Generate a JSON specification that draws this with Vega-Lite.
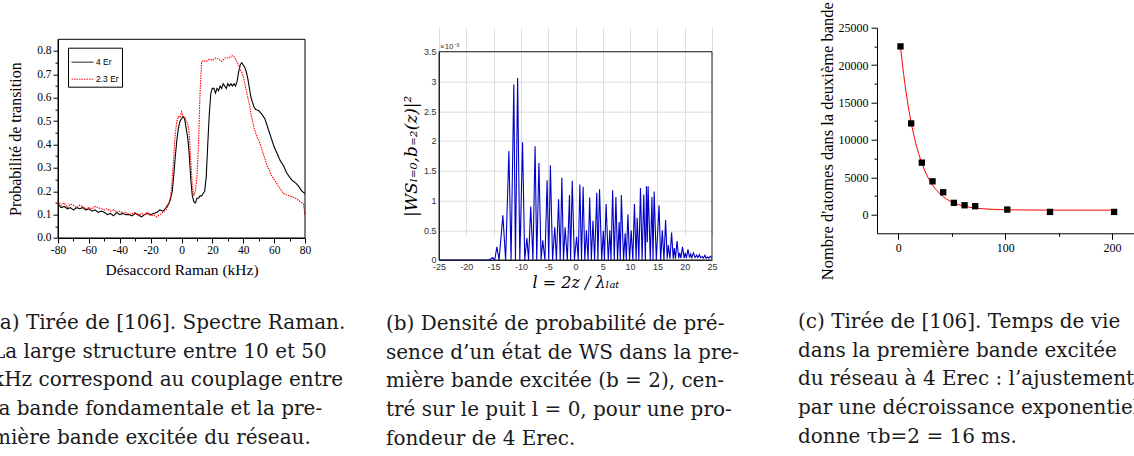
{
  "$schema": "https://vega.github.io/schema/vega-lite/v6.json",
  "background": "white",
  "padding": {"left": -8, "top": 0.7, "right": -20, "bottom": 0},
  "bounds": "flush",
  "spacing": 134,
  "config": {
    "view": {"stroke": null},
    "axis": {"titleFontWeight": "normal", "labelColor": "black", "titleColor": "black", "domainColor": "black", "tickColor": "black", "grid": false, "labelFlush": false, "labelOverlap": false, "tickCount": 100}
  },
  "datasets": {
    "raman": [
      {"x": -80, "p": 0.145, "s": "4 Er"}, {"x": -78, "p": 0.13, "s": "4 Er"}, {"x": -76, "p": 0.135, "s": "4 Er"}, {"x": -74, "p": 0.125, "s": "4 Er"}, {"x": -72, "p": 0.13, "s": "4 Er"}, {"x": -70, "p": 0.12, "s": "4 Er"}, {"x": -68, "p": 0.13, "s": "4 Er"}, {"x": -66, "p": 0.125, "s": "4 Er"}, {"x": -64, "p": 0.13, "s": "4 Er"}, {"x": -62, "p": 0.12, "s": "4 Er"}, {"x": -60, "p": 0.125, "s": "4 Er"}, {"x": -58, "p": 0.115, "s": "4 Er"}, {"x": -56, "p": 0.12, "s": "4 Er"}, {"x": -54, "p": 0.11, "s": "4 Er"}, {"x": -52, "p": 0.115, "s": "4 Er"}, {"x": -50, "p": 0.11, "s": "4 Er"}, {"x": -48, "p": 0.1, "s": "4 Er"}, {"x": -46, "p": 0.105, "s": "4 Er"}, {"x": -44, "p": 0.095, "s": "4 Er"}, {"x": -42, "p": 0.11, "s": "4 Er"}, {"x": -40, "p": 0.1, "s": "4 Er"}, {"x": -38, "p": 0.105, "s": "4 Er"}, {"x": -36, "p": 0.1, "s": "4 Er"}, {"x": -34, "p": 0.1, "s": "4 Er"}, {"x": -32, "p": 0.095, "s": "4 Er"}, {"x": -30, "p": 0.105, "s": "4 Er"}, {"x": -28, "p": 0.1, "s": "4 Er"}, {"x": -26, "p": 0.09, "s": "4 Er"}, {"x": -24, "p": 0.1, "s": "4 Er"}, {"x": -22, "p": 0.105, "s": "4 Er"}, {"x": -20, "p": 0.1, "s": "4 Er"}, {"x": -18, "p": 0.105, "s": "4 Er"}, {"x": -16, "p": 0.11, "s": "4 Er"}, {"x": -14, "p": 0.12, "s": "4 Er"}, {"x": -12, "p": 0.115, "s": "4 Er"}, {"x": -10, "p": 0.13, "s": "4 Er"}, {"x": -8, "p": 0.15, "s": "4 Er"}, {"x": -7, "p": 0.17, "s": "4 Er"}, {"x": -6, "p": 0.2, "s": "4 Er"}, {"x": -5, "p": 0.27, "s": "4 Er"}, {"x": -4, "p": 0.35, "s": "4 Er"}, {"x": -3, "p": 0.42, "s": "4 Er"}, {"x": -2, "p": 0.47, "s": "4 Er"}, {"x": -1, "p": 0.5, "s": "4 Er"}, {"x": 0, "p": 0.51, "s": "4 Er"}, {"x": 1, "p": 0.52, "s": "4 Er"}, {"x": 2, "p": 0.51, "s": "4 Er"}, {"x": 3, "p": 0.47, "s": "4 Er"}, {"x": 4, "p": 0.43, "s": "4 Er"}, {"x": 5, "p": 0.36, "s": "4 Er"}, {"x": 6, "p": 0.25, "s": "4 Er"}, {"x": 7, "p": 0.18, "s": "4 Er"}, {"x": 8, "p": 0.155, "s": "4 Er"}, {"x": 9, "p": 0.15, "s": "4 Er"}, {"x": 10, "p": 0.17, "s": "4 Er"}, {"x": 11, "p": 0.17, "s": "4 Er"}, {"x": 12, "p": 0.18, "s": "4 Er"}, {"x": 13, "p": 0.18, "s": "4 Er"}, {"x": 14, "p": 0.19, "s": "4 Er"}, {"x": 15, "p": 0.2, "s": "4 Er"}, {"x": 16, "p": 0.26, "s": "4 Er"}, {"x": 17, "p": 0.4, "s": "4 Er"}, {"x": 18, "p": 0.53, "s": "4 Er"}, {"x": 19, "p": 0.62, "s": "4 Er"}, {"x": 20, "p": 0.64, "s": "4 Er"}, {"x": 21, "p": 0.64, "s": "4 Er"}, {"x": 22, "p": 0.62, "s": "4 Er"}, {"x": 23, "p": 0.64, "s": "4 Er"}, {"x": 24, "p": 0.63, "s": "4 Er"}, {"x": 25, "p": 0.65, "s": "4 Er"}, {"x": 26, "p": 0.64, "s": "4 Er"}, {"x": 27, "p": 0.66, "s": "4 Er"}, {"x": 28, "p": 0.65, "s": "4 Er"}, {"x": 29, "p": 0.64, "s": "4 Er"}, {"x": 30, "p": 0.66, "s": "4 Er"}, {"x": 31, "p": 0.65, "s": "4 Er"}, {"x": 32, "p": 0.66, "s": "4 Er"}, {"x": 33, "p": 0.65, "s": "4 Er"}, {"x": 34, "p": 0.66, "s": "4 Er"}, {"x": 35, "p": 0.65, "s": "4 Er"}, {"x": 36, "p": 0.67, "s": "4 Er"}, {"x": 37, "p": 0.71, "s": "4 Er"}, {"x": 38, "p": 0.74, "s": "4 Er"}, {"x": 39, "p": 0.75, "s": "4 Er"}, {"x": 40, "p": 0.74, "s": "4 Er"}, {"x": 41, "p": 0.73, "s": "4 Er"}, {"x": 42, "p": 0.71, "s": "4 Er"}, {"x": 43, "p": 0.68, "s": "4 Er"}, {"x": 44, "p": 0.64, "s": "4 Er"}, {"x": 45, "p": 0.6, "s": "4 Er"}, {"x": 46, "p": 0.58, "s": "4 Er"}, {"x": 47, "p": 0.56, "s": "4 Er"}, {"x": 48, "p": 0.55, "s": "4 Er"}, {"x": 50, "p": 0.545, "s": "4 Er"}, {"x": 52, "p": 0.53, "s": "4 Er"}, {"x": 54, "p": 0.51, "s": "4 Er"}, {"x": 55, "p": 0.49, "s": "4 Er"}, {"x": 56, "p": 0.47, "s": "4 Er"}, {"x": 58, "p": 0.43, "s": "4 Er"}, {"x": 60, "p": 0.39, "s": "4 Er"}, {"x": 62, "p": 0.36, "s": "4 Er"}, {"x": 64, "p": 0.33, "s": "4 Er"}, {"x": 66, "p": 0.31, "s": "4 Er"}, {"x": 68, "p": 0.28, "s": "4 Er"}, {"x": 70, "p": 0.26, "s": "4 Er"}, {"x": 72, "p": 0.245, "s": "4 Er"}, {"x": 74, "p": 0.235, "s": "4 Er"}, {"x": 76, "p": 0.22, "s": "4 Er"}, {"x": 78, "p": 0.2, "s": "4 Er"}, {"x": 80, "p": 0.19, "s": "4 Er"},
      {"x": -80, "p": 0.16, "s": "2.3 Er"}, {"x": -78, "p": 0.14, "s": "2.3 Er"}, {"x": -76, "p": 0.15, "s": "2.3 Er"}, {"x": -74, "p": 0.13, "s": "2.3 Er"}, {"x": -72, "p": 0.145, "s": "2.3 Er"}, {"x": -70, "p": 0.14, "s": "2.3 Er"}, {"x": -68, "p": 0.13, "s": "2.3 Er"}, {"x": -66, "p": 0.14, "s": "2.3 Er"}, {"x": -64, "p": 0.135, "s": "2.3 Er"}, {"x": -62, "p": 0.125, "s": "2.3 Er"}, {"x": -60, "p": 0.13, "s": "2.3 Er"}, {"x": -58, "p": 0.125, "s": "2.3 Er"}, {"x": -56, "p": 0.135, "s": "2.3 Er"}, {"x": -54, "p": 0.13, "s": "2.3 Er"}, {"x": -52, "p": 0.125, "s": "2.3 Er"}, {"x": -50, "p": 0.12, "s": "2.3 Er"}, {"x": -48, "p": 0.125, "s": "2.3 Er"}, {"x": -46, "p": 0.115, "s": "2.3 Er"}, {"x": -44, "p": 0.12, "s": "2.3 Er"}, {"x": -42, "p": 0.11, "s": "2.3 Er"}, {"x": -40, "p": 0.115, "s": "2.3 Er"}, {"x": -38, "p": 0.105, "s": "2.3 Er"}, {"x": -36, "p": 0.11, "s": "2.3 Er"}, {"x": -34, "p": 0.1, "s": "2.3 Er"}, {"x": -32, "p": 0.105, "s": "2.3 Er"}, {"x": -30, "p": 0.11, "s": "2.3 Er"}, {"x": -28, "p": 0.095, "s": "2.3 Er"}, {"x": -26, "p": 0.105, "s": "2.3 Er"}, {"x": -24, "p": 0.1, "s": "2.3 Er"}, {"x": -22, "p": 0.11, "s": "2.3 Er"}, {"x": -20, "p": 0.095, "s": "2.3 Er"}, {"x": -18, "p": 0.1, "s": "2.3 Er"}, {"x": -16, "p": 0.09, "s": "2.3 Er"}, {"x": -14, "p": 0.1, "s": "2.3 Er"}, {"x": -12, "p": 0.11, "s": "2.3 Er"}, {"x": -10, "p": 0.12, "s": "2.3 Er"}, {"x": -8, "p": 0.15, "s": "2.3 Er"}, {"x": -7, "p": 0.18, "s": "2.3 Er"}, {"x": -6, "p": 0.25, "s": "2.3 Er"}, {"x": -5, "p": 0.35, "s": "2.3 Er"}, {"x": -4, "p": 0.45, "s": "2.3 Er"}, {"x": -3, "p": 0.5, "s": "2.3 Er"}, {"x": -2, "p": 0.52, "s": "2.3 Er"}, {"x": -1, "p": 0.515, "s": "2.3 Er"}, {"x": 0, "p": 0.54, "s": "2.3 Er"}, {"x": 1, "p": 0.52, "s": "2.3 Er"}, {"x": 2, "p": 0.52, "s": "2.3 Er"}, {"x": 3, "p": 0.5, "s": "2.3 Er"}, {"x": 4, "p": 0.49, "s": "2.3 Er"}, {"x": 5, "p": 0.45, "s": "2.3 Er"}, {"x": 6, "p": 0.33, "s": "2.3 Er"}, {"x": 7, "p": 0.22, "s": "2.3 Er"}, {"x": 8, "p": 0.18, "s": "2.3 Er"}, {"x": 9, "p": 0.2, "s": "2.3 Er"}, {"x": 10, "p": 0.26, "s": "2.3 Er"}, {"x": 11, "p": 0.4, "s": "2.3 Er"}, {"x": 12, "p": 0.62, "s": "2.3 Er"}, {"x": 13, "p": 0.75, "s": "2.3 Er"}, {"x": 14, "p": 0.76, "s": "2.3 Er"}, {"x": 16, "p": 0.755, "s": "2.3 Er"}, {"x": 18, "p": 0.765, "s": "2.3 Er"}, {"x": 20, "p": 0.76, "s": "2.3 Er"}, {"x": 22, "p": 0.77, "s": "2.3 Er"}, {"x": 24, "p": 0.765, "s": "2.3 Er"}, {"x": 26, "p": 0.755, "s": "2.3 Er"}, {"x": 28, "p": 0.77, "s": "2.3 Er"}, {"x": 30, "p": 0.77, "s": "2.3 Er"}, {"x": 32, "p": 0.775, "s": "2.3 Er"}, {"x": 33, "p": 0.78, "s": "2.3 Er"}, {"x": 34, "p": 0.775, "s": "2.3 Er"}, {"x": 35, "p": 0.765, "s": "2.3 Er"}, {"x": 36, "p": 0.75, "s": "2.3 Er"}, {"x": 37, "p": 0.74, "s": "2.3 Er"}, {"x": 38, "p": 0.72, "s": "2.3 Er"}, {"x": 39, "p": 0.71, "s": "2.3 Er"}, {"x": 40, "p": 0.69, "s": "2.3 Er"}, {"x": 41, "p": 0.66, "s": "2.3 Er"}, {"x": 42, "p": 0.63, "s": "2.3 Er"}, {"x": 43, "p": 0.6, "s": "2.3 Er"}, {"x": 44, "p": 0.57, "s": "2.3 Er"}, {"x": 45, "p": 0.53, "s": "2.3 Er"}, {"x": 46, "p": 0.5, "s": "2.3 Er"}, {"x": 47, "p": 0.47, "s": "2.3 Er"}, {"x": 48, "p": 0.45, "s": "2.3 Er"}, {"x": 49, "p": 0.43, "s": "2.3 Er"}, {"x": 50, "p": 0.42, "s": "2.3 Er"}, {"x": 51, "p": 0.4, "s": "2.3 Er"}, {"x": 52, "p": 0.38, "s": "2.3 Er"}, {"x": 53, "p": 0.36, "s": "2.3 Er"}, {"x": 54, "p": 0.34, "s": "2.3 Er"}, {"x": 55, "p": 0.32, "s": "2.3 Er"}, {"x": 56, "p": 0.3, "s": "2.3 Er"}, {"x": 57, "p": 0.29, "s": "2.3 Er"}, {"x": 58, "p": 0.27, "s": "2.3 Er"}, {"x": 59, "p": 0.26, "s": "2.3 Er"}, {"x": 60, "p": 0.25, "s": "2.3 Er"}, {"x": 62, "p": 0.23, "s": "2.3 Er"}, {"x": 64, "p": 0.21, "s": "2.3 Er"}, {"x": 65, "p": 0.2, "s": "2.3 Er"}, {"x": 66, "p": 0.19, "s": "2.3 Er"}, {"x": 68, "p": 0.185, "s": "2.3 Er"}, {"x": 70, "p": 0.18, "s": "2.3 Er"}, {"x": 72, "p": 0.175, "s": "2.3 Er"}, {"x": 74, "p": 0.17, "s": "2.3 Er"}, {"x": 75, "p": 0.165, "s": "2.3 Er"}, {"x": 76, "p": 0.16, "s": "2.3 Er"}, {"x": 78, "p": 0.15, "s": "2.3 Er"}, {"x": 79, "p": 0.145, "s": "2.3 Er"}, {"x": 80, "p": 0.1, "s": "2.3 Er"}
    ],
    "ws": [
      {"l": -25, "d": 0}, {"l": -16, "d": 0}, {"l": -15.6, "d": 0.01}, {"l": -15.2, "d": 0.04}, {"l": -14.8, "d": 0}, {"l": -14.4, "d": 0.22}, {"l": -14.0, "d": 0}, {"l": -13.3, "d": 0.75}, {"l": -12.8, "d": 0}, {"l": -12.2, "d": 1.83}, {"l": -11.8, "d": 0}, {"l": -11.3, "d": 2.95}, {"l": -11.0, "d": 0}, {"l": -10.6, "d": 3.06}, {"l": -10.2, "d": 0}, {"l": -9.7, "d": 1.98}, {"l": -9.3, "d": 0}, {"l": -8.9, "d": 0.37}, {"l": -8.6, "d": 0}, {"l": -8.2, "d": 0.9}, {"l": -7.8, "d": 0}, {"l": -7.4, "d": 1.91}, {"l": -7.1, "d": 0}, {"l": -6.7, "d": 1.63}, {"l": -6.3, "d": 0}, {"l": -6.0, "d": 0.33}, {"l": -5.6, "d": 0}, {"l": -5.2, "d": 1.34}, {"l": -4.9, "d": 0}, {"l": -4.6, "d": 1.59}, {"l": -4.2, "d": 0}, {"l": -3.8, "d": 0.55}, {"l": -3.5, "d": 0}, {"l": -3.1, "d": 1.02}, {"l": -2.8, "d": 0}, {"l": -2.5, "d": 1.38}, {"l": -2.2, "d": 0}, {"l": -1.9, "d": 0.55}, {"l": -1.5, "d": 0}, {"l": -1.1, "d": 1.09}, {"l": -0.9, "d": 0}, {"l": -0.6, "d": 1.33}, {"l": -0.2, "d": 0}, {"l": 0.2, "d": 0.39}, {"l": 0.5, "d": 0}, {"l": 0.8, "d": 1.27}, {"l": 1.1, "d": 0}, {"l": 1.4, "d": 1.23}, {"l": 1.7, "d": 0}, {"l": 2.0, "d": 0.5}, {"l": 2.3, "d": 0}, {"l": 2.6, "d": 1.05}, {"l": 2.9, "d": 0}, {"l": 3.2, "d": 0.66}, {"l": 3.5, "d": 0}, {"l": 3.9, "d": 1.13}, {"l": 4.1, "d": 0}, {"l": 4.4, "d": 1.19}, {"l": 4.8, "d": 0}, {"l": 5.1, "d": 0.49}, {"l": 5.3, "d": 0}, {"l": 5.6, "d": 0.94}, {"l": 6.0, "d": 0}, {"l": 6.3, "d": 0.5}, {"l": 6.5, "d": 0}, {"l": 6.8, "d": 1.17}, {"l": 7.1, "d": 0}, {"l": 7.4, "d": 1.06}, {"l": 7.7, "d": 0}, {"l": 8.0, "d": 0.64}, {"l": 8.2, "d": 0}, {"l": 8.4, "d": 1.09}, {"l": 8.8, "d": 0}, {"l": 9.1, "d": 0.45}, {"l": 9.3, "d": 0}, {"l": 9.6, "d": 0.77}, {"l": 9.9, "d": 0}, {"l": 10.2, "d": 0.5}, {"l": 10.5, "d": 0}, {"l": 10.8, "d": 0.94}, {"l": 11.1, "d": 0}, {"l": 11.3, "d": 0.71}, {"l": 11.6, "d": 0}, {"l": 11.9, "d": 1.21}, {"l": 12.2, "d": 0}, {"l": 12.5, "d": 1.1}, {"l": 12.8, "d": 0}, {"l": 13.0, "d": 1.24}, {"l": 13.15, "d": 0.3}, {"l": 13.3, "d": 1.24}, {"l": 13.7, "d": 0}, {"l": 14.0, "d": 1.06}, {"l": 14.2, "d": 0}, {"l": 14.4, "d": 1.15}, {"l": 14.8, "d": 0}, {"l": 15.3, "d": 0.92}, {"l": 15.6, "d": 0}, {"l": 15.9, "d": 0.5}, {"l": 16.2, "d": 0}, {"l": 16.5, "d": 0.67}, {"l": 16.8, "d": 0.02}, {"l": 17.0, "d": 0.25}, {"l": 17.3, "d": 0.02}, {"l": 17.6, "d": 0.46}, {"l": 17.9, "d": 0.02}, {"l": 18.1, "d": 0.2}, {"l": 18.3, "d": 0.02}, {"l": 18.6, "d": 0.32}, {"l": 18.9, "d": 0.03}, {"l": 19.1, "d": 0.12}, {"l": 19.3, "d": 0.03}, {"l": 19.6, "d": 0.22}, {"l": 19.9, "d": 0.03}, {"l": 20.1, "d": 0.12}, {"l": 20.3, "d": 0.03}, {"l": 20.6, "d": 0.18}, {"l": 20.9, "d": 0.04}, {"l": 21.1, "d": 0.1}, {"l": 21.3, "d": 0.04}, {"l": 21.6, "d": 0.12}, {"l": 21.9, "d": 0.04}, {"l": 22.2, "d": 0.08}, {"l": 22.4, "d": 0.04}, {"l": 22.7, "d": 0.09}, {"l": 22.9, "d": 0.04}, {"l": 23.2, "d": 0.06}, {"l": 23.4, "d": 0.03}, {"l": 23.7, "d": 0.08}, {"l": 23.9, "d": 0.03}, {"l": 24.2, "d": 0.05}, {"l": 24.4, "d": 0.03}, {"l": 24.7, "d": 0.06}, {"l": 25, "d": 0.03}
    ],
    "fit": [
      {"t": 2, "n": 22486}, {"t": 4, "n": 19914}, {"t": 6, "n": 17645}, {"t": 8, "n": 15641}, {"t": 10, "n": 13875}, {"t": 12, "n": 12315}, {"t": 14, "n": 10939}, {"t": 16, "n": 9724}, {"t": 18, "n": 8652}, {"t": 20, "n": 7705}, {"t": 23, "n": 6492}, {"t": 26, "n": 5483}, {"t": 29, "n": 4647}, {"t": 32, "n": 3956}, {"t": 36, "n": 3214}, {"t": 40, "n": 2636}, {"t": 45, "n": 2090}, {"t": 50, "n": 1689}, {"t": 55, "n": 1396}, {"t": 60, "n": 1183}, {"t": 70, "n": 912}, {"t": 80, "n": 767}, {"t": 90, "n": 690}, {"t": 100, "n": 648}, {"t": 120, "n": 614}, {"t": 150, "n": 602}, {"t": 202, "n": 600}
    ],
    "pts": [
      {"t": 2, "n": 22500}, {"t": 12, "n": 12200}, {"t": 22, "n": 6950}, {"t": 32, "n": 4450}, {"t": 42, "n": 2990}, {"t": 52, "n": 1570}, {"t": 62, "n": 1250}, {"t": 72, "n": 1120}, {"t": 102, "n": 670}, {"t": 142, "n": 360}, {"t": 202, "n": 360}
    ],
    "frameA": [
      {"x0": -80, "x1": 80, "p0": 0, "p1": 0.85}
    ],
    "frameB": [
      {"l0": -25, "l1": 25, "d0": 0, "d1": 3.5, "label": "×10⁻³"}
    ]
  },
  "hconcat": [
    {
      "width": 247,
      "height": 210.3,
      "title": {
        "text": ["(a) Tirée de [106]. Spectre Raman.", "La large structure entre 10 et 50", "kHz correspond au couplage entre", "la bande fondamentale et la pre-", "mière bande excitée du réseau."],
        "orient": "bottom", "anchor": "start", "frame": "group", "dx": -66, "offset": 35,
        "font": "DejaVu Serif", "fontSize": 20, "fontWeight": "normal", "lineHeight": 28.7, "color": "#1a1a1a", "align": "left", "baseline": "top"
      },
      "layer": [
        {
          "data": {"name": "raman"},
          "mark": {"type": "line", "strokeWidth": 1.1},
          "encoding": {
            "x": {"field": "x", "type": "quantitative", "scale": {"domain": [-80, 80], "nice": false, "zero": false},
              "axis": {"title": "Désaccord Raman (kHz)", "values": [-80, -70, -60, -50, -40, -30, -20, -10, 0, 10, 20, 30, 40, 50, 60, 70, 80], "tickCount": 100,
                "labelOverlap": false,
                "labelExpr": "datum.value % 20 === 0 ? '' + datum.value : ''",
                "tickSize": {"condition": {"test": "datum.value % 20 === 0", "value": 5}, "value": 3},
                "labelFont": "Liberation Serif", "labelFontSize": 11.5, "labelPadding": 2, "titleFont": "Liberation Serif", "titleFontSize": 15.5, "titlePadding": 6}},
            "y": {"field": "p", "type": "quantitative", "scale": {"domain": [0, 0.85], "range": [210.3, 11.6], "nice": false},
              "axis": {"title": "Probabilité de transition", "values": [0, 0.05, 0.1, 0.15, 0.2, 0.25, 0.3, 0.35, 0.4, 0.45, 0.5, 0.55, 0.6, 0.65, 0.7, 0.75, 0.8], "tickCount": 100,
                "labelOverlap": false,
                "labelExpr": "round(datum.value * 100) % 10 === 0 ? format(datum.value, '.1f') : ''",
                "tickSize": {"condition": {"test": "round(datum.value * 100) % 10 === 0", "value": 5}, "value": 3},
                "labelFont": "Liberation Serif", "labelFontSize": 11.5, "labelPadding": 2, "titleFont": "Liberation Serif", "titleFontSize": 16, "titlePadding": 13}},
            "color": {"field": "s", "type": "nominal", "scale": {"domain": ["4 Er", "2.3 Er"], "range": ["black", "#ff0000"]},
              "legend": {"title": null, "orient": "none", "legendX": 10, "legendY": 20, "strokeColor": "black", "fillColor": "white", "padding": 3, "symbolType": "stroke", "symbolSize": 480, "symbolStrokeWidth": 1, "labelFont": "Liberation Sans", "labelFontSize": 8.5, "labelColor": "black", "rowPadding": 1, "labelOffset": 2}},
            "strokeDash": {"field": "s", "type": "nominal", "scale": {"domain": ["4 Er", "2.3 Er"], "range": [[1, 0], [1.5, 1]]}}
          }
        },
        {
          "data": {"name": "frameA"},
          "mark": {"type": "rect", "fill": null, "stroke": "black", "strokeWidth": 1},
          "encoding": {
            "x": {"field": "x0", "type": "quantitative"}, "x2": {"field": "x1"},
            "y": {"field": "p0", "type": "quantitative"}, "y2": {"field": "p1"}
          }
        }
      ]
    },
    {
      "width": 273,
      "height": 232.3,
      "title": {
        "text": ["(b) Densité de probabilité de pré-", "sence d’un état de WS dans la pre-", "mière bande excitée (b = 2), cen-", "tré sur le puit l = 0, pour une pro-", "fondeur de 4 Erec."],
        "orient": "bottom", "anchor": "start", "frame": "group", "dx": -53, "offset": 23,
        "font": "DejaVu Serif", "fontSize": 20, "fontWeight": "normal", "lineHeight": 28.7, "color": "#1a1a1a", "align": "left", "baseline": "top"
      },
      "layer": [
        {
          "data": {"name": "ws"},
          "mark": {"type": "line", "color": "#0000c8", "strokeWidth": 1.1},
          "encoding": {
            "x": {"field": "l", "type": "quantitative", "scale": {"domain": [-25, 25], "nice": false, "zero": false},
              "axis": {"title": "l = 2z / λₗₐₜ", "values": [-25, -20, -15, -10, -5, 0, 5, 10, 15, 20, 25], "tickCount": 100, "labelExpr": "'' + datum.value", "labelOverlap": false,
                "grid": true, "gridColor": "#dddddd", "ticks": false, "domain": true, "domainColor": "#262626", "labelFont": "Liberation Sans", "labelFontSize": 9, "labelColor": "#333333", "labelPadding": 3,
                "titleFont": "DejaVu Serif", "titleFontStyle": "italic", "titleFontSize": 16, "titlePadding": 3}},
            "y": {"field": "d", "type": "quantitative", "scale": {"domain": [0, 3.5], "range": [232.3, 24], "nice": false},
              "axis": {"title": "|WSₗ₌₀,b₌₂(z)|²", "values": [0, 0.5, 1, 1.5, 2, 2.5, 3, 3.5], "tickCount": 100, "labelExpr": "'' + datum.value", "labelOverlap": false,
                "grid": true, "gridColor": "#dddddd", "ticks": false, "domain": true, "domainColor": "#262626", "labelFont": "Liberation Sans", "labelFontSize": 9, "labelColor": "#333333", "labelPadding": 3,
                "titleFont": "DejaVu Serif", "titleFontStyle": "italic", "titleFontSize": 17, "titlePadding": 3}}
          }
        },
        {
          "data": {"name": "frameB"},
          "mark": {"type": "rect", "fill": null, "stroke": "#262626", "strokeWidth": 1},
          "encoding": {
            "x": {"field": "l0", "type": "quantitative"}, "x2": {"field": "l1"},
            "y": {"field": "d0", "type": "quantitative"}, "y2": {"field": "d1"}
          }
        },
        {
          "data": {"name": "frameB"},
          "mark": {"type": "text", "align": "left", "baseline": "bottom", "dx": 1, "dy": -1, "font": "Liberation Sans", "fontSize": 8, "color": "#333333"},
          "encoding": {"x": {"field": "l0", "type": "quantitative"}, "y": {"field": "d1", "type": "quantitative"}, "text": {"field": "label"}}
        }
      ]
    },
    {
      "width": 298,
      "height": 205.6,
      "title": {
        "text": ["(c) Tirée de [106]. Temps de vie", "dans la première bande excitée", "du réseau à 4 Erec : l’ajustement", "par une décroissance exponentielle", "donne τb=2 = 16 ms."],
        "orient": "bottom", "anchor": "start", "frame": "group", "dx": -48, "offset": 32,
        "font": "DejaVu Serif", "fontSize": 20, "fontWeight": "normal", "lineHeight": 28.7, "color": "#1a1a1a", "align": "left", "baseline": "top"
      },
      "encoding": {
        "x": {"field": "t", "type": "quantitative", "scale": {"domain": [-20, 230], "range": [31, 298], "nice": false, "zero": false},
          "axis": {"title": null, "values": [0, 50, 100, 150, 200], "tickCount": 100, "labelExpr": "datum.value % 100 === 0 ? '' + datum.value : ''", "labelOverlap": false,
            "tickSize": {"condition": {"test": "datum.value % 100 === 0", "value": 6}, "value": 3},
            "labelFont": "Liberation Serif", "labelFontSize": 12, "labelPadding": 3}},
        "y": {"field": "n", "type": "quantitative", "scale": {"domain": [-2500, 25000], "nice": false, "zero": false},
          "axis": {"title": "Nombre d'atomes dans la deuxième bande", "offset": -31, "values": [0, 2500, 5000, 7500, 10000, 12500, 15000, 17500, 20000, 22500, 25000], "tickCount": 100,
            "labelExpr": "datum.value % 5000 === 0 ? '' + datum.value : ''", "labelOverlap": false,
            "tickSize": {"condition": {"test": "datum.value % 5000 === 0", "value": 6}, "value": 3},
            "labelFont": "Liberation Serif", "labelFontSize": 12, "labelPadding": 3, "titleFont": "Liberation Serif", "titleFontSize": 16.5, "titlePadding": 2, "titleY": 113}}
      },
      "layer": [
        {"data": {"name": "fit"}, "mark": {"type": "line", "color": "#ff0000", "strokeWidth": 1, "interpolate": "monotone"}},
        {"data": {"name": "pts"}, "mark": {"type": "square", "color": "black", "size": 40, "opacity": 1}}
      ]
    }
  ]
}
